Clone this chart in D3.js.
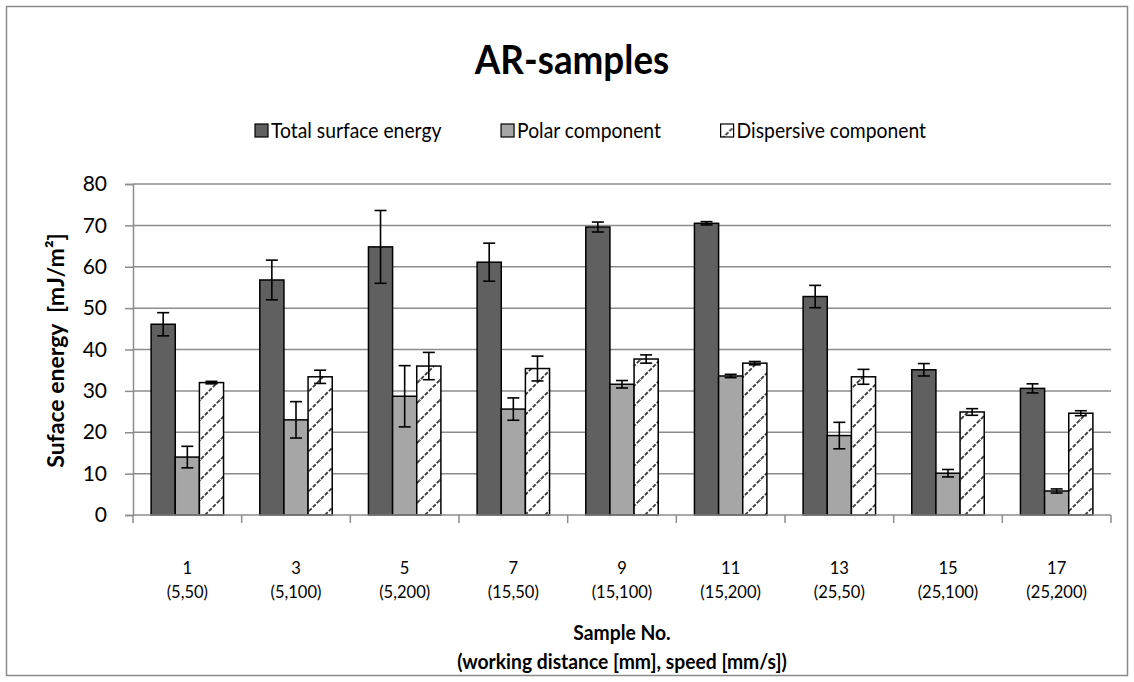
<!DOCTYPE html>
<html>
<head>
<meta charset="utf-8">
<script src="https://cdn.jsdelivr.net/npm/d3@7"></script>
<style>
  html, body { margin: 0; padding: 0; background: #fff; }
  svg text { font-family: Lato, "Open Sans", sans-serif; fill: #000; }
</style>
</head>
<body>
<svg id="chart" width="1134" height="682"></svg>
<script>
// Sample numbers and their process settings (working distance, speed)
const samples = ["1", "3", "5", "7", "9", "11", "13", "15", "17"];
const settings = ["(5,50)", "(5,100)", "(5,200)", "(15,50)", "(15,100)", "(15,200)", "(25,50)", "(25,100)", "(25,200)"];

const seriesNames = ["Total surface energy", "Polar component", "Dispersive component"];

// Surface energy values [mJ/m²] and their error (±)
const totalEnergy = [46.1, 56.8, 64.8, 61.1, 69.6, 70.5, 52.8, 35.1, 30.6];
const totalError  = [2.8, 4.8, 8.8, 4.6, 1.2, 0.4, 2.7, 1.5, 1.1];
const polarEnergy = [14.0, 23.0, 28.7, 25.6, 31.6, 33.6, 19.2, 10.1, 5.8];
const polarError  = [2.6, 4.4, 7.4, 2.7, 0.9, 0.4, 3.2, 0.9, 0.5];
const dispEnergy  = [32.0, 33.4, 36.0, 35.4, 37.7, 36.7, 33.4, 24.9, 24.6];
const dispError   = [0.3, 1.6, 3.3, 3.0, 1.0, 0.4, 1.8, 0.8, 0.6];

const yTicks = [0, 10, 20, 30, 40, 50, 60, 70, 80];

const svg = d3.select("#chart");
const W = 1134, H = 682;
const plot = { left: 133, right: 1111, top: 184, bottom: 515 };

// outer chart frame
svg.append("rect")
  .attr("x", 6.5).attr("y", 6.5)
  .attr("width", W - 13).attr("height", H - 13)
  .attr("fill", "#fff").attr("stroke", "#8a8a8a").attr("stroke-width", 1.5);

// wide upward-diagonal hatch for the dispersive component
const defs = svg.append("defs");
const T = 20;
const pat = defs.append("pattern")
  .attr("id", "hatch").attr("patternUnits", "userSpaceOnUse")
  .attr("width", T).attr("height", T);
pat.append("rect").attr("width", T).attr("height", T).attr("fill", "#fff");
pat.append("path")
  .attr("d", `M-3,${T + 3} L${T + 3},-3 M-${T / 2 + 3},${T / 2 + 3} L${T / 2 + 3},-${T / 2 + 3} M${T / 2 - 3},${T * 1.5 + 3} L${T * 1.5 + 3},${T / 2 - 3}`)
  .attr("stroke", "#3a3a3a").attr("stroke-width", 1.8)
  .attr("stroke-dasharray", "4,1.6");

const x0 = d3.scaleBand().domain(samples).range([plot.left, plot.right]).padding(0);
const x1 = d3.scaleBand().domain(seriesNames).range([0, x0.bandwidth()])
  .paddingInner(0).paddingOuter(0.75);
const y = d3.scaleLinear().domain([0, 80]).range([plot.bottom, plot.top]);

// horizontal gridlines
svg.append("g").selectAll("line").data(yTicks.filter(d => d > 0)).join("line")
  .attr("x1", plot.left).attr("x2", plot.right)
  .attr("y1", d => y(d)).attr("y2", d => y(d))
  .attr("stroke", "#8c8c8c").attr("stroke-width", 1.5);

// y axis
const yAxis = svg.append("g")
  .attr("transform", `translate(${plot.left},0)`)
  .call(d3.axisLeft(y).tickValues(yTicks).tickSize(8).tickPadding(18).tickFormat(d3.format("d")));
yAxis.select(".domain").attr("stroke", "#8c8c8c").attr("stroke-width", 1.5);
yAxis.selectAll(".tick line").attr("stroke", "#8c8c8c").attr("stroke-width", 1.5);
yAxis.selectAll(".tick text").attr("font-size", 21).attr("font-family", "Lato, sans-serif").attr("fill", "#000");

// series table
const series = [
  { name: seriesNames[0], values: totalEnergy, errors: totalError, fill: "#606060" },
  { name: seriesNames[1], values: polarEnergy, errors: polarError, fill: "#a6a6a6" },
  { name: seriesNames[2], values: dispEnergy, errors: dispError, fill: "url(#hatch)" }
];

const rows = [];
series.forEach(s => samples.forEach((c, i) => rows.push({ cat: c, name: s.name, v: s.values[i], e: s.errors[i], fill: s.fill })));

// bars
svg.append("g").selectAll("rect").data(rows).join("rect")
  .attr("x", d => x0(d.cat) + x1(d.name))
  .attr("y", d => y(d.v))
  .attr("width", x1.bandwidth())
  .attr("height", d => y(0) - y(d.v))
  .attr("fill", d => d.fill)
  .attr("stroke", "#000").attr("stroke-width", 1.5);

// x axis line and category ticks
svg.append("line")
  .attr("x1", plot.left).attr("x2", plot.right)
  .attr("y1", y(0)).attr("y2", y(0))
  .attr("stroke", "#8c8c8c").attr("stroke-width", 1.5);
svg.append("g").selectAll("line").data(samples.concat(["end"])).join("line")
  .attr("x1", d => d === "end" ? plot.right : x0(d))
  .attr("x2", d => d === "end" ? plot.right : x0(d))
  .attr("y1", y(0)).attr("y2", y(0) + 8)
  .attr("stroke", "#8c8c8c").attr("stroke-width", 1.5);

// error bars
const eb = svg.append("g").attr("stroke", "#000").attr("stroke-width", 1.6);
rows.forEach(d => {
  const cx = x0(d.cat) + x1(d.name) + x1.bandwidth() / 2;
  const yt = y(d.v + d.e), yb = y(d.v - d.e);
  eb.append("line").attr("x1", cx).attr("x2", cx).attr("y1", yt).attr("y2", yb);
  eb.append("line").attr("x1", cx - 6).attr("x2", cx + 6).attr("y1", yt).attr("y2", yt);
  eb.append("line").attr("x1", cx - 6).attr("x2", cx + 6).attr("y1", yb).attr("y2", yb);
});

// text helper: slightly condensed glyphs
function label(g, x, yPos, str, size, weight) {
  return g.append("text")
    .attr("transform", `translate(${x},${yPos}) scale(0.92,1)`)
    .attr("text-anchor", "middle")
    .attr("font-size", size)
    .attr("font-weight", weight || "normal")
    .attr("xml:space", "preserve")
    .text(str);
}

// category labels
const catG = svg.append("g");
samples.forEach((c, i) => {
  const cx = x0(c) + x0.bandwidth() / 2;
  label(catG, cx, 574, c, 18);
  label(catG, cx, 598, settings[i], 18);
});

// axis titles
const midX = (plot.left + plot.right) / 2;
label(svg, midX, 640, "Sample No.", 21, "bold");
label(svg, midX, 669, "(working distance [mm], speed [mm/s])", 21, "bold");
svg.append("text")
  .attr("transform", `translate(64,${(plot.top + plot.bottom) / 2 + 1}) rotate(-90)`)
  .attr("text-anchor", "middle").attr("font-size", 23).attr("font-weight", "bold")
  .attr("xml:space", "preserve")
  .text("Suface energy  [mJ/m²]");

// title
label(svg, 572, 74, "AR-samples", 40, "bold");

// legend: square + name, items spread evenly between the given edges
const legendLeft = 255, legendRight = 926, sq = 13, sqGap = 3, cond = 0.92;
const lg = svg.append("g");
const items = series.map(s => {
  const g = lg.append("g");
  g.append("rect").attr("width", sq).attr("height", sq).attr("y", 124)
    .attr("fill", s.fill).attr("stroke", "#000").attr("stroke-width", 1.2);
  const t = g.append("text")
    .attr("transform", `translate(${sq + sqGap},138) scale(${cond},1)`)
    .attr("font-size", 21).text(s.name);
  return { g, w: sq + sqGap + t.node().getComputedTextLength() * cond };
});
const totalW = d3.sum(items, d => d.w);
const gap = (legendRight - legendLeft - totalW) / (items.length - 1);
let cursor = legendLeft;
items.forEach(it => { it.g.attr("transform", `translate(${cursor},0)`); cursor += it.w + gap; });
</script>
</body>
</html>
